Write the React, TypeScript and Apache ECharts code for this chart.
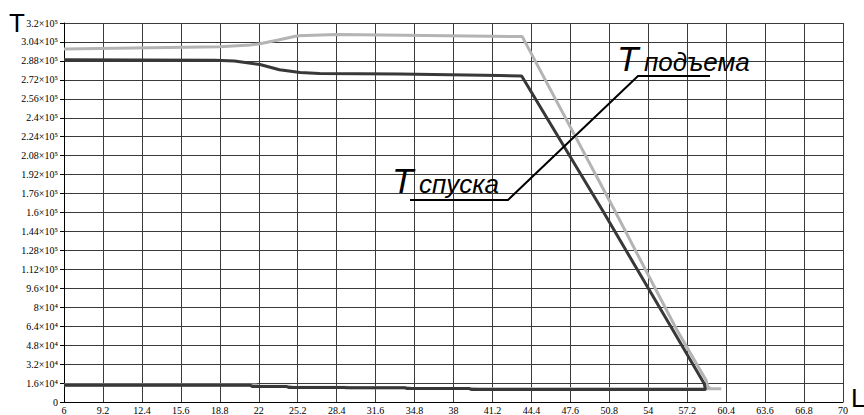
import React, { useEffect, useRef } from "react";
import * as echarts from "echarts";

// X tick labels (L)
const xTickLabels = [
  "6", "9.2", "12.4", "15.6", "18.8", "22", "25.2", "28.4", "31.6", "34.8", "38",
  "41.2", "44.4", "47.6", "50.8", "54", "57.2", "60.4", "63.6", "66.8", "70",
];

// Y tick labels (T), from 0 upward in steps of 1.6x10^4
const yTickLabels = [
  "0", "1.6×10⁴", "3.2×10⁴", "4.8×10⁴", "6.4×10⁴", "8×10⁴", "9.6×10⁴",
  "1.12×10⁵", "1.28×10⁵", "1.44×10⁵", "1.6×10⁵", "1.76×10⁵", "1.92×10⁵",
  "2.08×10⁵", "2.24×10⁵", "2.4×10⁵", "2.56×10⁵", "2.72×10⁵", "2.88×10⁵",
  "3.04×10⁵", "3.2×10⁵",
];

// T подъема (light grey curve), traced out and back
const liftL = [
  6, 18.8, 21.3, 22, 23.6, 25.2, 28.4, 34, 41, 43.65, 51.2, 56.3, 58.75, 58.9,
  59.1, 60, 40, 39.8, 34.5, 34.3, 29.5, 29.3, 24.8, 24.6, 22, 21.8, 6,
];
const liftT = [
  298000, 300000, 301500, 302300, 305700, 309300, 310300, 309700, 308800, 308500,
  162500, 61800, 18300, 13000, 11400, 11200, 11200, 11500, 11500, 12000, 12000,
  12400, 12400, 13200, 13200, 14400, 14400,
];

// T спуска (dark curve), traced out and back
const descentL = [
  6, 18.4, 20, 22.1, 23.7, 25.4, 27, 33.6, 41.8, 43.6, 50.2, 55.96, 58.6, 58.7,
  39.5, 39.3, 34.2, 34.0, 29.2, 29.0, 24.5, 24.3, 21.5, 21.3, 6,
];
const descentT = [
  288900, 288600, 288000, 284900, 280500, 278200, 277400, 276900, 275700, 275200,
  162500, 61800, 15500, 10500, 10500, 11300, 11300, 12000, 12000, 12200, 12200,
  13000, 13000, 14200, 14200,
];

const Y_STEP = 16000;

export default function App() {
  const ref = useRef<HTMLDivElement>(null);
  useEffect(() => {
    const chart = echarts.init(ref.current!, null, { renderer: "svg" });
    const gridColor = "#3a3a3a";
    const serif = '"Liberation Serif", "DejaVu Serif", serif';
    const sans = '"Liberation Sans", Arial, sans-serif';
    chart.setOption({
      animation: false,
      backgroundColor: "#ffffff",
      grid: { left: 64, right: 21, top: 23, bottom: 12, containLabel: false },
      xAxis: [
        {
          type: "value",
          min: 6,
          max: 70,
          show: false,
        },
        {
          type: "category",
          data: xTickLabels,
          boundaryGap: false,
          position: "bottom",
          axisLine: { show: true, lineStyle: { color: "#000", width: 1 } },
          axisTick: { show: false },
          axisLabel: {
            color: "#000",
            fontSize: 10,
            fontFamily: serif,
            margin: 3,
            interval: 0,
          },
          splitLine: { show: true, lineStyle: { color: gridColor, width: 1 } },
        },
      ],
      yAxis: {
        type: "value",
        min: 0,
        max: 320000,
        interval: Y_STEP,
        axisLine: { show: true, lineStyle: { color: "#000", width: 1 } },
        axisTick: { show: true, length: 4, lineStyle: { color: "#000" } },
        axisLabel: {
          color: "#000",
          fontSize: 10,
          fontFamily: serif,
          margin: 6,
          formatter: (v: number) => yTickLabels[Math.round(v / Y_STEP)] ?? "",
        },
        splitLine: { show: true, lineStyle: { color: gridColor, width: 1 } },
      },
      series: [
        {
          name: "T подъема",
          type: "line",
          xAxisIndex: 0,
          showSymbol: false,
          symbol: "none",
          lineStyle: { color: "#b4b4b4", width: 3 },
          data: liftL.map((l, i) => [l, liftT[i]]),
          z: 3,
        },
        {
          name: "T спуска",
          type: "line",
          xAxisIndex: 0,
          showSymbol: false,
          symbol: "none",
          lineStyle: { color: "#383838", width: 3 },
          data: descentL.map((l, i) => [l, descentT[i]]),
          z: 4,
        },
      ],
      graphic: [
        {
          type: "text",
          x: 9,
          y: 23,
          style: {
            text: "T",
            font: `normal 26px ${sans}`,
            fill: "#000",
            verticalAlign: "middle",
            textVerticalAlign: "middle",
          },
          z: 10,
        },
        {
          type: "text",
          x: 851,
          y: 398,
          style: {
            text: "L",
            font: `normal 26px ${sans}`,
            fill: "#000",
            verticalAlign: "middle",
            textVerticalAlign: "middle",
          },
          z: 10,
        },
        {
          type: "polyline",
          shape: { points: [[410, 200], [508, 200], [638, 76], [710, 76]] },
          style: { stroke: "#000", lineWidth: 2, fill: "none" },
          z: 10,
        },
        {
          type: "text",
          x: 617,
          y: 58,
          style: {
            text: "T",
            font: `italic 35px ${sans}`,
            fill: "#000",
            verticalAlign: "middle",
            textVerticalAlign: "middle",
          },
          z: 10,
        },
        {
          type: "text",
          x: 644,
          y: 62,
          style: {
            text: "подъема",
            font: `italic 26px ${sans}`,
            fill: "#000",
            verticalAlign: "middle",
            textVerticalAlign: "middle",
          },
          z: 10,
        },
        {
          type: "text",
          x: 392,
          y: 180,
          style: {
            text: "T",
            font: `italic 35px ${sans}`,
            fill: "#000",
            verticalAlign: "middle",
            textVerticalAlign: "middle",
          },
          z: 10,
        },
        {
          type: "text",
          x: 419,
          y: 184,
          style: {
            text: "спуска",
            font: `italic 26px ${sans}`,
            fill: "#000",
            verticalAlign: "middle",
            textVerticalAlign: "middle",
          },
          z: 10,
        },
      ],
    });
    return () => chart.dispose();
  }, []);
  return (
    <div
      ref={ref}
      style={{ position: "fixed", left: 0, top: 0, width: 864, height: 415, background: "#fff" }}
    />
  );
}
